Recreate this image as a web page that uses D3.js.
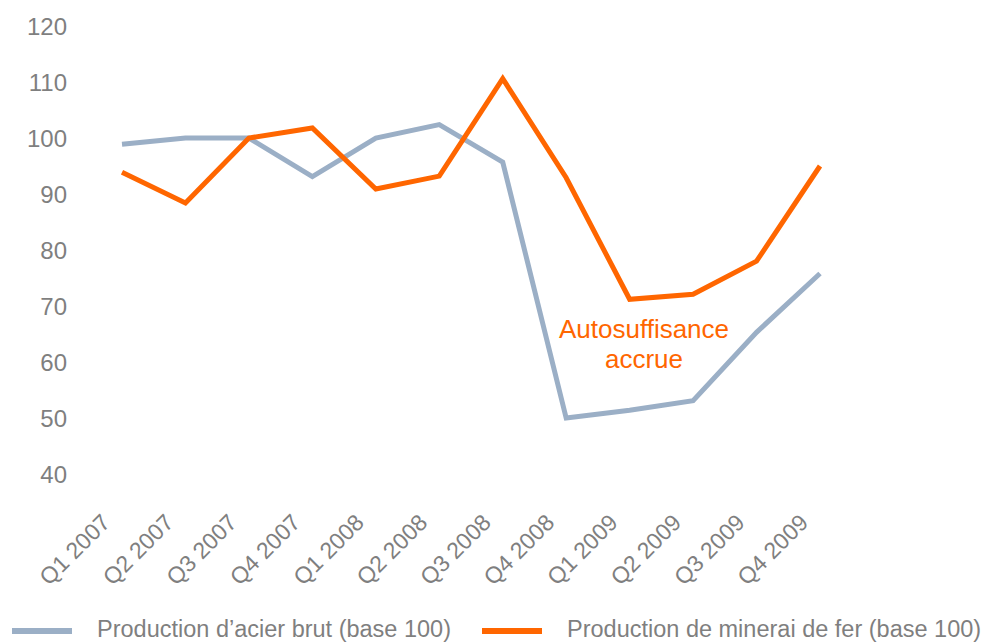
<!DOCTYPE html>
<html>
<head>
<meta charset="utf-8">
<script src="https://cdn.jsdelivr.net/npm/d3@7"></script>
<style>
  body { margin: 0; background: #fff; }
  text { font-family: "Liberation Sans", Arial, sans-serif; }
</style>
</head>
<body>
<div id="chart"></div>
<script>
// quarters on the x axis
const quarters = ['Q1 2007', 'Q2 2007', 'Q3 2007', 'Q4 2007',
                  'Q1 2008', 'Q2 2008', 'Q3 2008', 'Q4 2008',
                  'Q1 2009', 'Q2 2009', 'Q3 2009', 'Q4 2009']
// steel output, base 100
const acier = [98.9, 100, 100, 93.1, 100, 102.4, 95.7, 50, 51.4, 53.1, 65.3, 75.8]
// iron ore output, base 100
const minerai = [93.9, 88.4, 100, 101.8, 90.9, 93.2, 110.6, 92.9, 71.2, 72.1, 78, 95]
const yTicks = [40, 50, 60, 70, 80, 90, 100, 110, 120]
const seriesNames = ["Production d\u2019acier brut (base 100)", "Production de minerai de fer (base 100)"]
const note = ['Autosuffisance', 'accrue']

const width = 991
const height = 643
const grey = '#9bafc6'
const orange = '#ff6600'
const textGrey = '#7f7f7f'

const svg = d3.select('#chart')
              .append('svg')
              .attr('width', width)
              .attr('height', height)

const xScale = d3.scalePoint()
                 .domain(quarters)
                 .range([122, 820])

const yScale = d3.scaleLinear()
                 .domain([40, 120])
                 .range([474, 26])

//y axis, labels only
const yAxis = d3.axisLeft(yScale)
                .tickValues(yTicks)
                .tickSize(0)
                .tickPadding(0)

svg.append('g')
   .attr('transform', 'translate(67, 0)')
   .call(yAxis)
   .call(g => g.select('.domain').remove())
   .selectAll('text')
   .attr('dy', '0.36em')
   .style('font-size', '24px')
   .style('fill', textGrey)

//x axis, rotated labels
const xAxis = d3.axisBottom(xScale)
                .tickSize(0)

const xg = svg.append('g')
   .attr('transform', 'translate(0, 500)')
   .call(xAxis)
xg.select('.domain').remove()
xg.selectAll('text')
  .attr('text-anchor', 'end')
  .attr('dy', 0)
  .attr('y', 0)
  .attr('transform', 'translate(-11, 24) rotate(-45)')
  .style('font-size', '23px')
  .style('fill', textGrey)

//lines
const line = d3.line()
               .x((d, i) => xScale(quarters[i]))
               .y(d => yScale(d))

svg.append('path')
   .datum(acier)
   .attr('d', line)
   .attr('fill', 'none')
   .attr('stroke', grey)
   .attr('stroke-width', 5)

svg.append('path')
   .datum(minerai)
   .attr('d', line)
   .attr('fill', 'none')
   .attr('stroke', orange)
   .attr('stroke-width', 5)

//annotation
svg.append('text')
   .attr('x', 643)
   .attr('y', 338)
   .attr('text-anchor', 'middle')
   .style('font-size', '26px')
   .style('fill', orange)
   .selectAll('tspan')
   .data(note)
   .enter()
   .append('tspan')
   .attr('x', 644)
   .attr('dy', (d, i) => i === 0 ? 0 : 30)
   .text(d => d)

//legend
const legend = svg.append('g')
const legendX = [12, 482]
const colors = [grey, orange]

legend.selectAll('line')
      .data(seriesNames)
      .enter()
      .append('line')
      .attr('x1', (d, i) => legendX[i])
      .attr('x2', (d, i) => legendX[i] + 60)
      .attr('y1', 631)
      .attr('y2', 631)
      .attr('stroke', (d, i) => colors[i])
      .attr('stroke-width', 6)

legend.selectAll('text')
      .data(seriesNames)
      .enter()
      .append('text')
      .attr('x', (d, i) => legendX[i] + 85)
      .attr('y', 637)
      .style('font-size', '23.5px')
      .style('fill', textGrey)
      .text(d => d)
</script>
</body>
</html>
